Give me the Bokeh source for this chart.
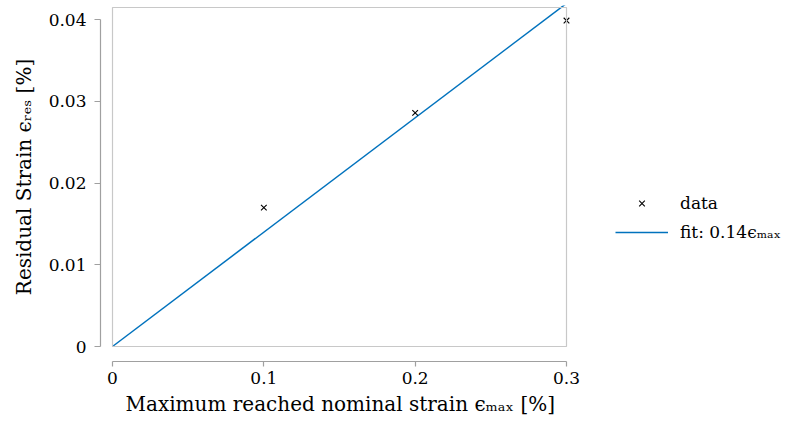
from bokeh.plotting import figure
from bokeh.models import Range1d, LinearAxis, FixedTicker, Legend, LegendItem, BoxAnnotation, Title
from bokeh.embed import file_html
from bokeh.resources import INLINE

# data
strain_max = [0.1, 0.2, 0.3]
strain_res = [0.0170, 0.0286, 0.0399]
fit_slope = 0.14
fit_x = [0.0, 0.3]
fit_y = [fit_slope * v for v in fit_x]

x_ticks = [0.0, 0.1, 0.2, 0.3]
x_tick_labels = ["0", "0.1", "0.2", "0.3"]
y_ticks = [0.0, 0.01, 0.02, 0.03, 0.04]
y_tick_labels = ["0", "0.01", "0.02", "0.03", "0.04"]
y_top = 0.0415  # upper limit of the axes box

x_label = "Maximum reached nominal strain \u03f5\u2098\u2090\u2093 [%]"
y_label = "Residual Strain \u03f5\u1d63\u2091\u209b [%]"
legend_labels = ["data", "fit: 0.14\u03f5\u2098\u2090\u2093"]

FONT = "DejaVu Serif"
FS = "17px"
FS_LABEL = "20px"
LINE_COLOR = "#0072bd"

# layout (pixels)
W, H = 801, 425
box_left, box_right, box_top, box_bottom = 112, 566, 7, 346
pad = 2  # frame extends slightly past the axes box so its border is not clipped
ppx = (box_right - box_left) / (x_ticks[-1] - x_ticks[0])
ppy = (box_bottom - box_top) / (y_top - y_ticks[0])

frame_left, frame_top, frame_bottom = box_left - pad, box_top - pad, box_bottom + pad
x_range = Range1d(x_ticks[0] - pad / ppx, x_ticks[-1] + (W - box_right) / ppx)
y_range = Range1d(y_ticks[0] - pad / ppy, y_top + pad / ppy)

p = figure(width=W, height=H, output_backend="svg", toolbar_location=None,
           x_range=x_range, y_range=y_range,
           x_axis_location=None, y_axis_location=None,
           min_border_left=frame_left, min_border_right=0,
           min_border_top=frame_top, min_border_bottom=H - frame_bottom)
p.grid.visible = False
p.outline_line_color = None
p.background_fill_color = "white"
p.border_fill_color = "white"

p.add_layout(BoxAnnotation(left=x_ticks[0], right=x_ticks[-1], bottom=y_ticks[0], top=y_top,
                           fill_alpha=0, line_color="#c8c8c8", line_alpha=1, line_width=1.2))

def spacer_axis(gap):
    # invisible axis used only to push the real axis away from the frame
    return LinearAxis(ticker=FixedTicker(ticks=[0.0]), axis_line_color=None,
                      major_tick_line_color="white", minor_tick_line_color=None,
                      major_tick_out=gap, major_tick_in=0, minor_tick_out=0,
                      major_label_standoff=0, major_label_text_font_size="0px",
                      major_label_overrides={0.0: ""}, axis_label=None)

def real_axis(ticks, labels, bounds, label, tick_out, label_standoff, axis_label_standoff):
    return LinearAxis(ticker=FixedTicker(ticks=ticks), bounds=bounds,
                      major_label_overrides=dict(zip(ticks, labels)),
                      axis_label=label, axis_line_color="#a0a0a0", axis_line_width=1.2,
                      major_tick_line_color="#a0a0a0", major_tick_line_width=1.2,
                      major_tick_out=tick_out, major_tick_in=0,
                      minor_tick_line_color=None,
                      major_label_standoff=label_standoff,
                      axis_label_standoff=axis_label_standoff,
                      major_label_text_font=FONT, major_label_text_font_size=FS,
                      major_label_text_color="black",
                      axis_label_text_font=FONT, axis_label_text_font_size=FS_LABEL,
                      axis_label_text_font_style="normal", axis_label_text_color="black")

p.add_layout(spacer_axis(10), "left")
p.add_layout(real_axis(y_ticks, y_tick_labels, (y_ticks[0], y_ticks[-1]),
                       y_label, 6, 8, 10), "left")
p.add_layout(spacer_axis(13), "below")
p.add_layout(real_axis(x_ticks, x_tick_labels, (x_ticks[0], x_ticks[-1]),
                       None, 5, 5, 5), "below")
# x-axis label centred under the axis' own extent rather than the wider frame
p.add_layout(Title(text=x_label, align="left", offset=125 - frame_left, standoff=6,
                   text_font=FONT, text_font_size=FS_LABEL, text_font_style="normal",
                   text_color="black"), "below")

fit_r = p.line(fit_x, fit_y, line_color=LINE_COLOR, line_width=1.5)
data_r = p.scatter(strain_max, strain_res, marker="x", size=8, line_color="black", line_width=1.1)

legend = Legend(items=[LegendItem(label=legend_labels[0], renderers=[data_r]),
                       LegendItem(label=legend_labels[1], renderers=[fit_r])],
                location=(615 - frame_left, frame_bottom - 244), orientation="vertical",
                border_line_color=None, background_fill_alpha=0,
                label_text_font=FONT, label_text_font_size=FS, label_text_color="black",
                glyph_width=53, glyph_height=20, label_height=25, spacing=4,
                label_standoff=12, margin=0, padding=10)
p.add_layout(legend, "center")

open("out.html", "w").write(file_html(p, INLINE))
